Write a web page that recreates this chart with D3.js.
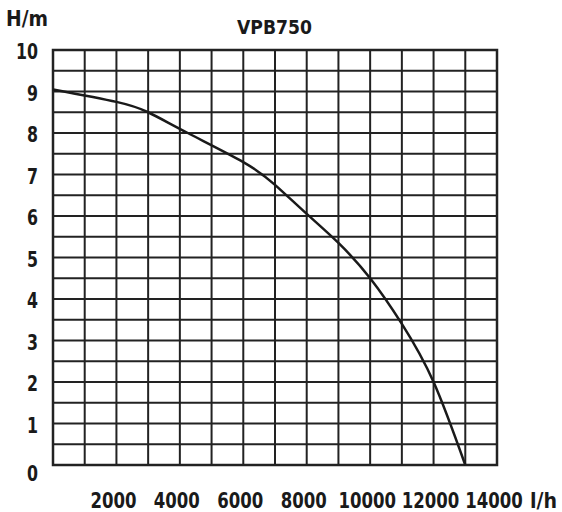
<!DOCTYPE html>
<html><head><meta charset="utf-8">
<script src="https://cdn.jsdelivr.net/npm/d3@7"></script>
<style>body{margin:0;background:#fff}text{font-family:"DejaVu Sans",sans-serif;font-weight:bold;fill:#1a1a1a;font-stretch:condensed}</style>
</head><body><svg id="c" width="562" height="512"></svg>
<script>
const flow = [0, 2000, 3000, 4250, 6000, 7000, 8000, 9000, 10000, 11000, 12000, 13000];
const head = [9.05, 8.75, 8.5, 8.0, 7.3, 6.75, 6.05, 5.35, 4.5, 3.4, 2.0, 0];
const xTicks = [2000, 4000, 6000, 8000, 10000, 12000, 14000];
const yTicks = [0,1,2,3,4,5,6,7,8,9,10];
const svg = d3.select("#c");
const x = d3.scaleLinear().domain([0,14000]).range([53,497]);
const y = d3.scaleLinear().domain([0,10]).range([465,50]);
const g = svg.append("g");
g.selectAll(".v").data(d3.range(0,14001,1000)).join("line")
 .attr("x1",d=>x(d)).attr("x2",d=>x(d)).attr("y1",y(0)).attr("y2",y(10))
 .attr("stroke","#222").attr("stroke-width",2);
g.selectAll(".h").data(d3.range(0,10.01,0.5)).join("line")
 .attr("y1",d=>y(d)).attr("y2",d=>y(d)).attr("x1",x(0)).attr("x2",x(14000))
 .attr("stroke","#222").attr("stroke-width",2);
g.append("rect").attr("x",x(0)).attr("y",y(10)).attr("width",x(14000)-x(0)).attr("height",y(0)-y(10))
 .attr("fill","none").attr("stroke","#222").attr("stroke-width",2.5);
const line = d3.line().x((d,i)=>x(flow[i])).y(d=>y(d)).curve(d3.curveNatural);
svg.append("path").attr("d",line(head)).attr("fill","none").attr("stroke","#1a1a1a").attr("stroke-width",2.5);
svg.selectAll(".yl").data(yTicks).join("text").attr("x",38).attr("y",d=>y(d)+(d===0?16:9)).attr("text-anchor","end")
 .attr("font-size",22).attr("textLength",d=>String(d).length*11).attr("lengthAdjust","spacingAndGlyphs").text(d=>d);
svg.selectAll(".xl").data(xTicks).join("text").attr("x",d=>x(d)-3).attr("y",508).attr("text-anchor","middle")
 .attr("font-size",21).attr("textLength",d=>String(d).length*11.5).attr("lengthAdjust","spacingAndGlyphs").text(d=>d);
svg.append("text").attr("x",530).attr("y",508).attr("font-size",22).attr("textLength",27).attr("lengthAdjust","spacingAndGlyphs").text("l/h");
svg.append("text").attr("x",6).attr("y",26).attr("font-size",22).attr("textLength",42).attr("lengthAdjust","spacingAndGlyphs").text("H/m");
svg.append("text").attr("x",237).attr("y",34).attr("font-size",19).attr("textLength",75).attr("lengthAdjust","spacingAndGlyphs").text("VPB750");
</script></body></html>
